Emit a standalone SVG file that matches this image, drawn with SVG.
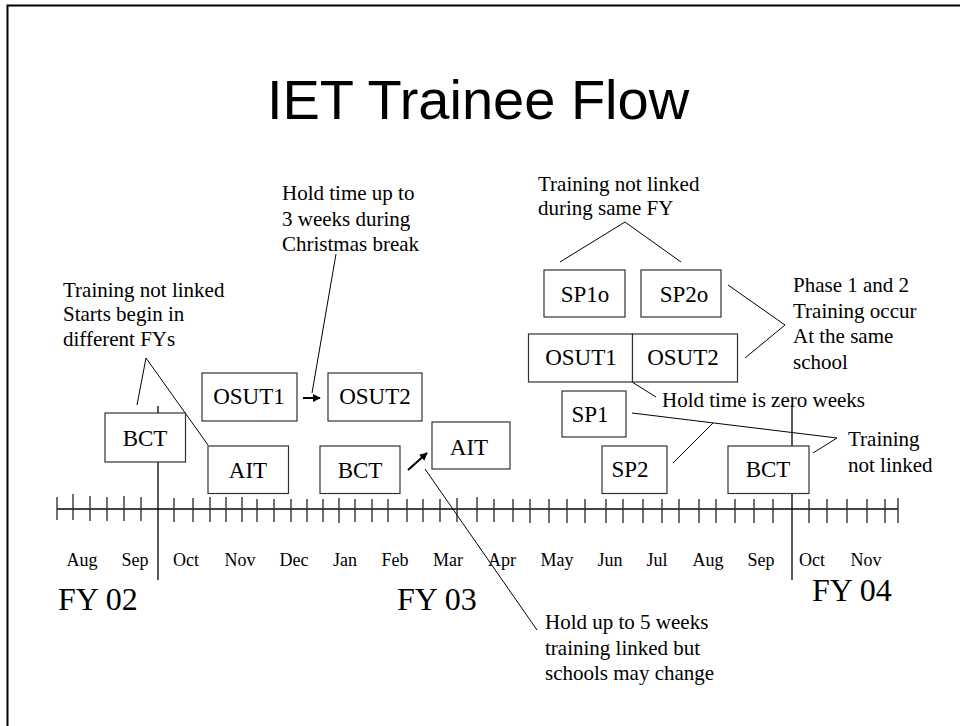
<svg xmlns="http://www.w3.org/2000/svg" width="960" height="726" viewBox="0 0 960 726">
<style>
.box{fill:#fff;stroke:#333;stroke-width:1.2}
.bl{font-family:"Liberation Serif","Times New Roman",serif;font-size:23px;fill:#000;text-anchor:middle}
.ann{font-family:"Liberation Serif","Times New Roman",serif;font-size:21px;fill:#000}
.mon{font-family:"Liberation Serif","Times New Roman",serif;font-size:18px;fill:#000;text-anchor:middle}
.fy{font-family:"Liberation Serif","Times New Roman",serif;font-size:32px;fill:#000}
.ln{stroke:#000;stroke-width:1;fill:none}
.tk{stroke:#333;stroke-width:1.4}
</style>
<defs>
<marker id="ah" viewBox="0 0 10 10" refX="9" refY="5" markerWidth="4" markerHeight="4" orient="auto" markerUnits="strokeWidth">
<path d="M0,0 L10,5 L0,10 z" fill="#000"/>
</marker>
</defs>
<rect width="960" height="726" fill="#fff"/>
<path d="M7.5,726 V5.5 H960" stroke="#000" stroke-width="2" fill="none"/>
<text x="478" y="119" text-anchor="middle" font-family="Liberation Sans, Arial, sans-serif" font-size="56" fill="#000">IET Trainee Flow</text>

<g id="timeline">
<line x1="57" y1="509" x2="898" y2="509" stroke="#444" stroke-width="1.8"/>
<g class="tk">
<line x1="57" y1="497" x2="57" y2="520"/><line x1="73" y1="494" x2="73" y2="520"/><line x1="90" y1="496" x2="90" y2="521"/><line x1="107" y1="497" x2="107" y2="521"/><line x1="124" y1="496" x2="124" y2="521"/><line x1="141" y1="497" x2="141" y2="521"/>
<line x1="174" y1="498" x2="174" y2="522"/><line x1="193" y1="498" x2="193" y2="522"/><line x1="210" y1="497" x2="210" y2="522"/><line x1="226" y1="497" x2="226" y2="522"/><line x1="242" y1="497" x2="242" y2="522"/><line x1="257" y1="499" x2="257" y2="522"/><line x1="274" y1="499" x2="274" y2="522"/>
<line x1="291" y1="499" x2="291" y2="522"/><line x1="307" y1="499" x2="307" y2="522"/><line x1="323" y1="499" x2="323" y2="522"/><line x1="339" y1="498" x2="339" y2="523"/><line x1="355" y1="499" x2="355" y2="522"/><line x1="372" y1="499" x2="372" y2="522"/><line x1="388" y1="499" x2="388" y2="522"/>
<line x1="407" y1="499" x2="407" y2="522"/><line x1="423" y1="499" x2="423" y2="522"/><line x1="440" y1="499" x2="440" y2="522"/><line x1="457" y1="498" x2="457" y2="522"/><line x1="477" y1="497" x2="477" y2="522"/><line x1="494" y1="499" x2="494" y2="522"/><line x1="513" y1="499" x2="513" y2="522"/>
<line x1="530" y1="499" x2="530" y2="523"/><line x1="549" y1="499" x2="549" y2="523"/><line x1="567" y1="499" x2="567" y2="523"/><line x1="585" y1="499" x2="585" y2="523"/><line x1="606" y1="499" x2="606" y2="523"/><line x1="623" y1="499" x2="623" y2="523"/><line x1="643" y1="499" x2="643" y2="523"/>
<line x1="662" y1="499" x2="662" y2="523"/><line x1="679" y1="499" x2="679" y2="523"/><line x1="699" y1="499" x2="699" y2="523"/><line x1="716" y1="499" x2="716" y2="523"/><line x1="735" y1="499" x2="735" y2="523"/><line x1="754" y1="499" x2="754" y2="523"/><line x1="773" y1="499" x2="773" y2="523"/>
<line x1="809" y1="499" x2="809" y2="523"/><line x1="827" y1="499" x2="827" y2="523"/><line x1="847" y1="499" x2="847" y2="523"/><line x1="867" y1="499" x2="867" y2="523"/><line x1="885" y1="499" x2="885" y2="523"/><line x1="898" y1="498" x2="898" y2="523"/>
</g>
<line x1="158" y1="406" x2="158" y2="580" stroke="#000" stroke-width="1.3"/>
<line x1="792" y1="405" x2="792" y2="580" stroke="#000" stroke-width="1.3"/>
<g class="mon">
<text x="82" y="566">Aug</text><text x="135" y="566">Sep</text><text x="186" y="566">Oct</text><text x="240" y="566">Nov</text><text x="294" y="566">Dec</text><text x="345" y="566">Jan</text><text x="395" y="566">Feb</text><text x="448" y="566">Mar</text>
<text x="502" y="566">Apr</text><text x="557" y="566">May</text><text x="610" y="566">Jun</text><text x="657" y="566">Jul</text><text x="708" y="566">Aug</text><text x="761" y="566">Sep</text><text x="812" y="566">Oct</text><text x="866" y="566">Nov</text>
</g>
<text class="fy" x="58" y="610">FY 02</text>
<text class="fy" x="397" y="610">FY 03</text>
<text class="fy" x="812" y="601">FY 04</text>
</g>

<g id="connectors">
<polyline class="ln" points="137,405 146,358 208,445"/>
<line class="ln" x1="336" y1="254" x2="312" y2="393"/>
<line x1="303" y1="398" x2="320" y2="398" stroke="#000" stroke-width="2" marker-end="url(#ah)"/>
<line x1="408" y1="470" x2="427" y2="453" stroke="#000" stroke-width="2" marker-end="url(#ah)"/>
<line class="ln" x1="425" y1="469" x2="537" y2="630"/>
<polyline class="ln" points="560,262 625,222 681,262"/>
<polyline class="ln" points="728,285 785,325 745,358"/>
<line class="ln" x1="632" y1="382" x2="656" y2="397"/>
<polyline class="ln" points="632,413 837,438 813,453"/>
<line class="ln" x1="673" y1="463" x2="713" y2="423"/>
</g>

<g id="bct1"><rect class="box" x="105" y="413" width="80.5" height="49"/><text class="bl" x="145" y="446">BCT</text></g>
<g id="ait1"><rect class="box" x="208" y="446" width="80.5" height="47.5"/><text class="bl" x="248" y="478">AIT</text></g>
<g id="osut1a"><rect class="box" x="202" y="373" width="95" height="48"/><text class="bl" x="249" y="404">OSUT1</text></g>
<g id="osut2a"><rect class="box" x="328" y="373" width="94" height="48"/><text class="bl" x="375" y="404">OSUT2</text></g>
<g id="bct2"><rect class="box" x="320" y="446" width="80" height="47.5"/><text class="bl" x="360" y="478">BCT</text></g>
<g id="ait2"><rect class="box" x="432" y="422" width="78" height="47"/><text class="bl" x="469" y="455">AIT</text></g>
<g id="sp1o"><rect class="box" x="544" y="270" width="81" height="47"/><text class="bl" x="585" y="302">SP1o</text></g>
<g id="sp2o"><rect class="box" x="641" y="270" width="80" height="47"/><text class="bl" x="684" y="302">SP2o</text></g>
<g id="osut1b"><rect class="box" x="528.5" y="334" width="104" height="48"/><text class="bl" x="581" y="365">OSUT1</text></g>
<g id="osut2b"><rect class="box" x="632.5" y="334" width="105" height="48"/><text class="bl" x="683" y="365">OSUT2</text></g>
<g id="sp1"><rect class="box" x="562" y="391" width="64" height="46"/><text class="bl" x="590" y="422">SP1</text></g>
<g id="sp2"><rect class="box" x="602" y="446" width="65" height="47.5"/><text class="bl" x="630" y="477">SP2</text></g>
<g id="bct3"><rect class="box" x="728" y="446" width="81" height="47.5"/><text class="bl" x="768" y="477">BCT</text></g>

<g id="notes" class="ann">
<text x="63" y="297">Training not linked</text>
<text x="63" y="321">Starts begin in</text>
<text x="63" y="346">different FYs</text>
<text x="282" y="200">Hold time up to</text>
<text x="282" y="226">3 weeks during</text>
<text x="282" y="251">Christmas break</text>
<text x="538" y="191">Training not linked</text>
<text x="538" y="215">during same FY</text>
<text x="793" y="292">Phase 1 and 2</text>
<text x="793" y="318">Training occur</text>
<text x="793" y="343">At the same</text>
<text x="793" y="369">school</text>
<text x="662" y="407">Hold time is zero weeks</text>
<text x="848" y="446">Training</text>
<text x="848" y="472">not linked</text>
<text x="545" y="629">Hold up to 5 weeks</text>
<text x="545" y="655">training linked but</text>
<text x="545" y="680">schools may change</text>
</g>
</svg>
